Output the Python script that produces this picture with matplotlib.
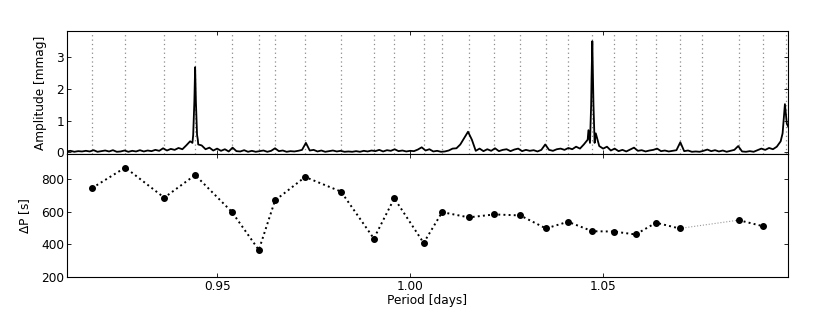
import numpy as np
from matplotlib import pyplot as plt

# Period spacing data (bottom panel)
period = [0.9176, 0.9262, 0.9363, 0.9443, 0.9538, 0.9608, 0.9650, 0.9728, 0.9821,
          0.9906, 0.9959, 1.0035, 1.0083, 1.0152, 1.0218, 1.0285, 1.0352, 1.0409,
          1.0472, 1.0528, 1.0584, 1.0637, 1.0698, 1.0851, 1.0914]
delta_p = [746, 872, 687, 826, 600, 366, 670, 814, 724, 436, 683, 409, 598, 566,
           584, 578, 498, 539, 481, 479, 461, 533, 498, 549, 512]
delta_p_err = [14, 12, 10, 12, 14, 14, 14, 12, 14, 16, 16, 16, 12, 10, 10, 12,
               12, 10, 10, 10, 14, 14, 12, 16, 12]
# index where the sequence has a gap (drawn as thin grey line)
gap_after = 22

# Vertical markers in the top panel
mode_periods = period[:23] + [1.0756] + period[23:] + [1.0975]

# Amplitude spectrum: coarse grid + extra points at the peaks
spec_start = 0.911
spec_step = 0.001
spec_grid_amp = [
    0.03, 0.05, 0.02, 0.04, 0.03, 0.05, 0.03, 0.07, 0.02, 0.04,
    0.06, 0.03, 0.07, 0.02, 0.03, 0.06, 0.02, 0.05, 0.03, 0.07,
    0.03, 0.06, 0.04, 0.08, 0.05, 0.13, 0.06, 0.11, 0.08, 0.14,
    0.10, 0.22, 0.35, 1.20, 0.40, 0.22, 0.10, 0.15, 0.06, 0.12,
    0.05, 0.10, 0.03, 0.15, 0.04, 0.03, 0.07, 0.02, 0.05, 0.02,
    0.04, 0.06, 0.02, 0.05, 0.13, 0.04, 0.06, 0.02, 0.04, 0.03,
    0.05, 0.08, 0.30, 0.06, 0.08, 0.03, 0.06, 0.02, 0.04, 0.06,
    0.03, 0.05, 0.02, 0.03, 0.02, 0.04, 0.02, 0.05, 0.03, 0.06,
    0.04, 0.08, 0.03, 0.07, 0.05, 0.10, 0.04, 0.06, 0.03, 0.05,
    0.04, 0.09, 0.16, 0.06, 0.10, 0.03, 0.05, 0.02, 0.03, 0.06,
    0.12, 0.13, 0.25, 0.45, 0.65, 0.40, 0.05, 0.12, 0.04, 0.10,
    0.05, 0.13, 0.04, 0.08, 0.10, 0.04, 0.09, 0.12, 0.04, 0.08,
    0.05, 0.07, 0.03, 0.08, 0.25, 0.08, 0.05, 0.10, 0.12, 0.08,
    0.14, 0.10, 0.18, 0.12, 0.25, 0.40, 2.30, 0.50, 0.20, 0.12,
    0.18, 0.06, 0.12, 0.04, 0.08, 0.03, 0.09, 0.15, 0.05, 0.07,
    0.03, 0.06, 0.08, 0.12, 0.04, 0.06, 0.03, 0.05, 0.07, 0.32,
    0.04, 0.06, 0.02, 0.03, 0.02, 0.05, 0.09, 0.04, 0.07, 0.03,
    0.06, 0.02, 0.05, 0.08, 0.20, 0.03, 0.02, 0.04, 0.02, 0.07,
    0.12, 0.08, 0.14, 0.10, 0.18, 0.35, 1.40, 0.80]
peak_period = [0.9436, 0.9438, 0.9441, 0.9443, 0.9445, 0.9448, 0.9451,
               1.0462, 1.0466, 1.0469, 1.0472, 1.0475, 1.0478, 1.0481,
               1.0965, 1.0971, 1.0976]
peak_amp = [0.30, 0.55, 1.60, 2.68, 1.60, 0.55, 0.25,
            0.70, 0.30, 1.50, 3.50, 1.50, 0.30, 0.60,
            0.60, 1.52, 0.90]

grid_period = spec_start + spec_step * np.arange(len(spec_grid_amp))
spec_p = np.concatenate([grid_period, peak_period])
spec_a = np.concatenate([spec_grid_amp, peak_amp])
order = np.argsort(spec_p)
spec_p = spec_p[order]
spec_a = spec_a[order]

plt.rcParams['font.size'] = 8.7
plt.rcParams['xtick.direction'] = 'in'
plt.rcParams['ytick.direction'] = 'in'
plt.rcParams['xtick.top'] = True
plt.rcParams['ytick.right'] = True

fig = plt.figure(figsize=(8.3, 3.12), dpi=100)
ax1 = fig.add_axes([0.0807, 0.5064, 0.8687, 0.3942])
ax2 = fig.add_axes([0.0807, 0.1122, 0.8687, 0.3942], sharex=ax1)

# Top: amplitude spectrum
for p in mode_periods:
    ax1.axvline(p, color='0.55', ls=(0, (1, 2.5)), lw=0.9, zorder=1)
ax1.plot(spec_p, spec_a, color='black', lw=1.3, zorder=2)
ax1.set_ylim(-0.05, 3.82)
ax1.set_yticks([0, 1, 2, 3])
ax1.set_ylabel('Amplitude [mmag]')
plt.setp(ax1.get_xticklabels(), visible=False)

# Bottom: period spacing
ax2.plot(period[:gap_after + 1], delta_p[:gap_after + 1], color='black', ls=':', lw=1.4)
ax2.plot(period[gap_after:gap_after + 2], delta_p[gap_after:gap_after + 2],
         color='0.6', ls=':', lw=0.8)
ax2.plot(period[gap_after + 1:], delta_p[gap_after + 1:], color='black', ls=':', lw=1.4)
ax2.errorbar(period, delta_p, yerr=delta_p_err, fmt='o', color='black', ms=4,
             ecolor='0.5', elinewidth=1, capsize=0)
ax2.set_ylim(200, 955)
ax2.set_yticks([200, 400, 600, 800])
ax2.set_xlim(0.9111, 1.0979)
ax2.set_xticks([0.95, 1.00, 1.05])
ax2.set_xticklabels(['0.95', '1.00', '1.05'])
ax2.set_ylabel(r'$\Delta$P [s]')
ax2.set_xlabel('Period [days]', labelpad=1)

for ax in (ax1, ax2):
    ax.tick_params(length=3, width=0.6, pad=2)
ax1.yaxis.set_label_coords(-0.028, 0.5)
ax2.yaxis.set_label_coords(-0.049, 0.5)

plt.savefig('out.png', dpi=100)
